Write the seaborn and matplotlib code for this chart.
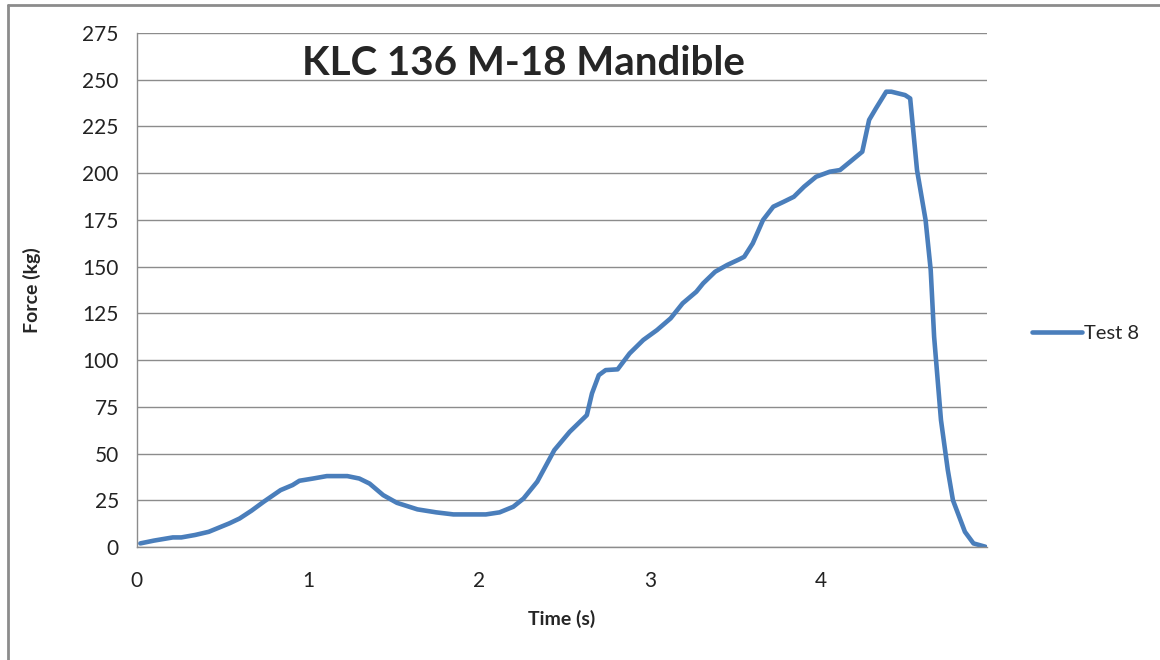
import pandas as pd
import matplotlib.pyplot as plt
import seaborn as sns

# values
time_s = [0.02, 0.10, 0.21, 0.26, 0.34, 0.42, 0.54, 0.60, 0.67, 0.74,
          0.84, 0.91, 0.95, 1.03, 1.11, 1.23, 1.30, 1.36, 1.44, 1.52,
          1.64, 1.75, 1.85, 2.04, 2.12, 2.20, 2.26, 2.34, 2.44, 2.53,
          2.63, 2.66, 2.70, 2.74, 2.81, 2.88, 2.96, 3.04, 3.12, 3.19,
          3.27, 3.31, 3.38, 3.45, 3.52, 3.55, 3.60, 3.66, 3.72, 3.78,
          3.84, 3.90, 3.97, 4.05, 4.11, 4.17, 4.24, 4.28, 4.32, 4.38,
          4.41, 4.49, 4.52, 4.56, 4.61, 4.64, 4.66, 4.70, 4.74, 4.77,
          4.84, 4.89, 4.96]
force_kg = [2.0, 3.5, 5.2, 5.2, 6.5, 8.2, 12.7, 15.3, 19.5, 24.2,
            30.5, 33.2, 35.5, 36.7, 38.0, 38.0, 36.7, 34.0, 27.8, 23.7,
            20.2, 18.6, 17.5, 17.5, 18.6, 21.6, 26.0, 35.0, 51.9, 61.7,
            70.6, 82.2, 92.0, 94.7, 95.1, 103.6, 110.8, 116.1, 122.4, 130.4,
            136.6, 141.1, 147.3, 150.9, 153.9, 155.3, 162.5, 175.0, 182.1, 184.7,
            187.4, 192.8, 198.1, 200.8, 201.7, 206.2, 211.5, 228.5, 234.7, 243.6,
            243.6, 241.8, 240.0, 201.7, 175.0, 148.2, 112.5, 68.0, 41.2, 25.1,
            8.2, 2.0, 0.2]
series_name = "Test 8"
x_ticks = [0, 1, 2, 3, 4]
y_ticks = list(range(0, 276, 25))

df = pd.DataFrame({"Time": time_s, "Force": force_kg})

sns.set_style("white")
plt.rcParams['font.family'] = ['Lato', 'DejaVu Sans']

fig = plt.figure(figsize=(11.6, 6.6), dpi=100)
ax = fig.add_axes([0.118, 0.171, 0.733, 0.779])

sns.lineplot(data=df, x="Time", y="Force", ax=ax, sort=False, estimator=None,
             color="#4A7EBB", linewidth=3.3, label=series_name)

ax.set_xlim(0, 4.97)
ax.set_ylim(0, 275)
ax.set_xticks(x_ticks)
ax.set_yticks(y_ticks)
ax.grid(axis='y', color='#8c8c8c', linewidth=1)
ax.set_axisbelow(True)
for s in ['top', 'right']:
    ax.spines[s].set_visible(False)
for s in ['left', 'bottom']:
    ax.spines[s].set_color('#8c8c8c')
    ax.spines[s].set_linewidth(1)
ax.tick_params(axis='both', direction='out', length=5, color='#8c8c8c',
               labelsize=15, labelcolor='#222222', pad=8)
ax.tick_params(axis='x', pad=12)

ax.set_xlabel("Time (s)", fontsize=14, fontweight='bold', labelpad=14)
ax.set_ylabel("Force (kg)", fontsize=14, fontweight='bold', labelpad=30)
ax.set_title("KLC 136 M-18 Mandible", fontsize=29, fontweight='bold',
             x=0.455, y=0.902)

leg = ax.legend(loc='center left', bbox_to_anchor=(0.874, 0.495),
                bbox_transform=fig.transFigure, frameon=False, fontsize=14.5,
                handlelength=2.5, handletextpad=0.1)

# outer chart frame
fig.add_artist(plt.Line2D([0.007, 1.0], [0.993, 0.993], color='#8c8c8c', linewidth=2))
fig.add_artist(plt.Line2D([0.007, 0.007], [0.0, 0.993], color='#8c8c8c', linewidth=2))

fig.savefig("out.png", dpi=100)
